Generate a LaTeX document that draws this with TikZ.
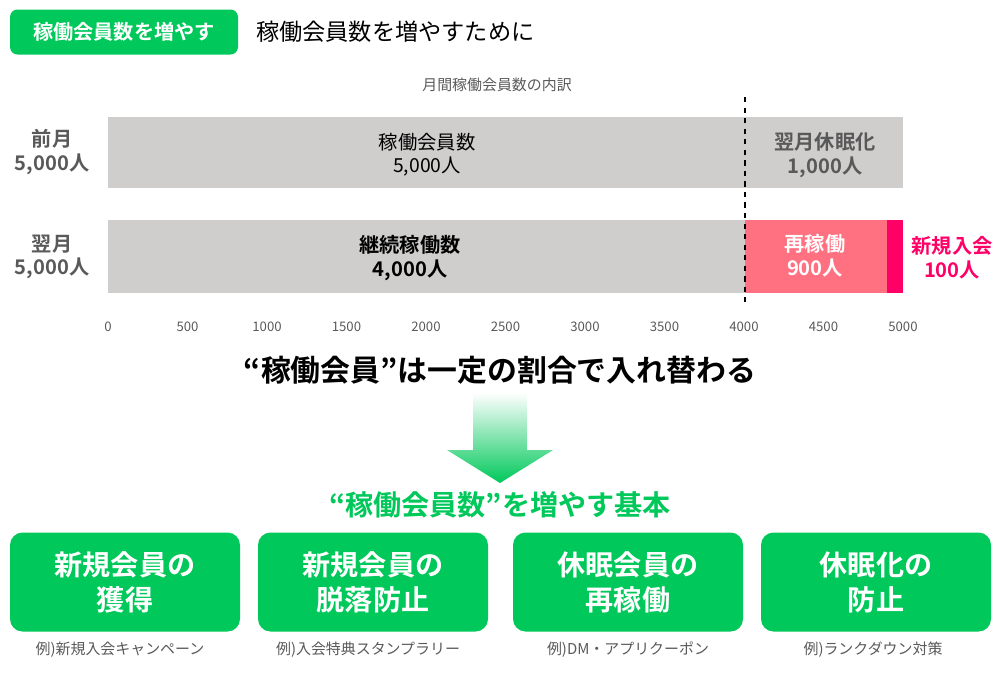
\documentclass[tikz,border=0pt]{standalone}
\usepackage{fontspec}
\setmainfont{Noto Sans CJK JP}[BoldFont={* Bold}]
\definecolor{mygreen}{HTML}{00C85A}
\definecolor{bargray}{HTML}{D0CDCD}
\definecolor{mypink}{HTML}{FF7080}
\definecolor{mymag}{HTML}{FF0066}
\definecolor{dgray}{HTML}{595959}
\tikzset{
	gbox/.style={fill=mygreen, rounded corners=2.5mm, text=white, font=\bfseries\fontsize{16}{20}\selectfont, align=center},
	bartxt/.style={font=\fontsize{11}{13}\selectfont, align=center},
	barbold/.style={font=\bfseries\fontsize{11.5}{13.5}\selectfont, align=center},
	tick/.style={font=\fontsize{7.5}{9}\selectfont, text=dgray},
	caption/.style={font=\fontsize{8.5}{10}\selectfont, text=dgray}
}
\begin{document}
\begin{tikzpicture}[x=0.2mm, y=-0.2mm]
	\useasboundingbox (0,0) rectangle (1000,685);

	% Titel
	\node[fill=mygreen, rounded corners=1.5mm, minimum width=228*0.2mm, minimum height=45*0.2mm, text=white, font=\bfseries\fontsize{11.5}{13}\selectfont] (tag) at (124,32) {稼働会員数を増やす};
	\node[anchor=west, font=\fontsize{13.2}{15}\selectfont] (title) at (250,32) {稼働会員数を増やすために};
	\node[font=\fontsize{8.5}{10}\selectfont, text=dgray] (charttitle) at (497,85) {月間稼働会員数の内訳};

	% Balken
	\fill[bargray] (108,117) rectangle (903,188);
	\fill[bargray] (108,220) rectangle (745,293);
	\fill[mypink] (745,220) rectangle (887,293);
	\fill[mymag] (887,220) rectangle (903,293);
	\draw[dashed, thick] (745,97) -- (745,302);

	\node[bartxt] (active) at (427,155) {稼働会員数\\5,000人};
	\node[barbold, text=dgray] (dormant) at (825,155) {翌月休眠化\\1,000人};
	\node[barbold] (cont) at (410,258) {継続稼働数\\4,000人};
	\node[barbold, text=white] (react) at (815,256) {再稼働\\900人};
	\node[barbold, text=mymag] (newm) at (952,258) {新規入会\\100人};
	\node[barbold, text=dgray] (prev) at (52,152) {前月\\5,000人};
	\node[barbold, text=dgray] (next) at (52,257) {翌月\\5,000人};

	% Achse
	\foreach \v in {0,500,...,5000}
		\node[tick] at ({108+\v*0.159},327) {\v};

	% Pfeil
	\node[font=\bfseries\fontsize{17}{20}\selectfont] (head) at (500,370) {“稼働会員”は一定の割合で入れ替わる};
	\shade[top color=white, bottom color=mygreen] (473,393) -- (527,393) -- (527,450) -- (553,450) -- (500,483) -- (447,450) -- (473,450) -- cycle;
	\node[font=\bfseries\fontsize{16}{19}\selectfont, text=mygreen] (basic) at (500,505) {“稼働会員数”を増やす基本};

	% Kaesten
	\node[gbox, minimum width=230*0.2mm, minimum height=99*0.2mm] (b1) at (125,582) {新規会員の\\獲得};
	\node[gbox, minimum width=230*0.2mm, minimum height=99*0.2mm] (b2) at (373,582) {新規会員の\\脱落防止};
	\node[gbox, minimum width=230*0.2mm, minimum height=99*0.2mm] (b3) at (628,582) {休眠会員の\\再稼働};
	\node[gbox, minimum width=230*0.2mm, minimum height=99*0.2mm] (b4) at (876,582) {休眠化の\\防止};
	\node[caption] (c1) at (120,650) {例)新規入会キャンペーン};
	\node[caption] (c2) at (368,650) {例)入会特典スタンプラリー};
	\node[caption] (c3) at (628,650) {例)DM・アプリクーポン};
	\node[caption] (c4) at (873,650) {例)ランクダウン対策};
\end{tikzpicture}
\end{document}
